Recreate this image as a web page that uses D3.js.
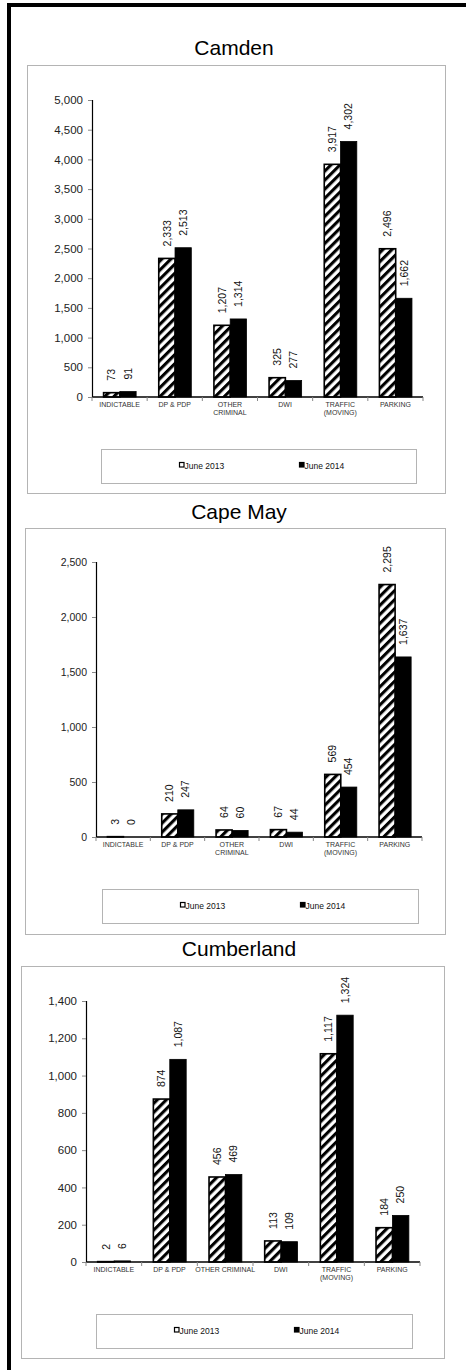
<!DOCTYPE html>
<html>
<head>
    <meta charset="utf-8">
    <title>Municipal Court Filings - June 2013 vs June 2014</title>
    <script src="https://d3js.org/d3.v7.min.js"></script>
    <style>
        body {
            margin: 0;
            background: #fff;
            font-family: "Liberation Sans", Arial, sans-serif;
        }
        svg text {
            font-family: "Liberation Sans", Arial, sans-serif;
        }
        .frame {
            fill: none;
            stroke: #b4b4b4;
            stroke-width: 1;
        }
        .title {
            font-size: 21px;
            fill: #000;
        }
        .tick-label {
            fill: #222;
        }
        .cat-label {
            font-size: 7px;
            fill: #333;
        }
        .value-label {
            font-size: 10.5px;
            fill: #111;
        }
        .legend-text {
            font-size: 8.5px;
            fill: #111;
        }
    </style>
</head>
<body>
    <div id="chart"></div>

    <script>
        // Categories along the x axis (second line used when the label wraps)
        const categories = ["INDICTABLE", "DP & PDP", "OTHER CRIMINAL", "DWI", "TRAFFIC (MOVING)", "PARKING"];
        const seriesNames = ["June 2013", "June 2014"];

        // Camden
        const camden2013 = [73, 2333, 1207, 325, 3917, 2496];
        const camden2014 = [91, 2513, 1314, 277, 4302, 1662];
        const camdenTicks = [0, 500, 1000, 1500, 2000, 2500, 3000, 3500, 4000, 4500, 5000];

        // Cape May
        const capeMay2013 = [3, 210, 64, 67, 569, 2295];
        const capeMay2014 = [0, 247, 60, 44, 454, 1637];
        const capeMayTicks = [0, 500, 1000, 1500, 2000, 2500];

        // Cumberland
        const cumberland2013 = [2, 874, 456, 113, 1117, 184];
        const cumberland2014 = [6, 1087, 469, 109, 1324, 250];
        const cumberlandTicks = [0, 200, 400, 600, 800, 1000, 1200, 1400];

        // page layout for the three stacked panels
        const panels = [
            {
                title: "Camden", v13: camden2013, v14: camden2014, ticks: camdenTicks,
                titleX: 234, titleY: 55,
                box: {x: 27, y: 65, w: 418, h: 428},
                axis: {x0: 92, x1: 423, y0: 397, yTop: 100},
                legend: {x: 101, y: 449, w: 315, h: 34},
                tickSize: 11.5, wrapOther: true
            },
            {
                title: "Cape May", v13: capeMay2013, v14: capeMay2014, ticks: capeMayTicks,
                titleX: 239, titleY: 519,
                box: {x: 25, y: 528, w: 420, h: 406},
                axis: {x0: 96, x1: 422, y0: 837, yTop: 562},
                legend: {x: 102, y: 889, w: 316, h: 34},
                tickSize: 10.5, wrapOther: true
            },
            {
                title: "Cumberland", v13: cumberland2013, v14: cumberland2014, ticks: cumberlandTicks,
                titleX: 239, titleY: 956,
                box: {x: 21, y: 966, w: 423, h: 392},
                axis: {x0: 86, x1: 420, y0: 1262, yTop: 1001},
                legend: {x: 96, y: 1314, w: 316, h: 34},
                tickSize: 11.5, wrapOther: false
            }
        ];

        const W = 466, H = 1370;
        const fmt = d3.format(",");

        const svg = d3.select("#chart")
            .append("svg")
            .attr("width", W)
            .attr("height", H);

        // diagonal hatch for the 2013 bars
        const defs = svg.append("defs");
        const hatch = defs.append("pattern")
            .attr("id", "hatch")
            .attr("patternUnits", "userSpaceOnUse")
            .attr("width", 6.4)
            .attr("height", 6.4)
            .attr("patternTransform", "rotate(45)");
        hatch.append("rect").attr("width", 6.4).attr("height", 6.4).attr("fill", "#fff");
        hatch.append("rect").attr("width", 3.1).attr("height", 6.4).attr("fill", "#000");

        // thick page border on the left and top
        svg.append("rect").attr("x", 7).attr("y", 3).attr("width", W - 7).attr("height", 4).attr("fill", "#000");
        svg.append("rect").attr("x", 7).attr("y", 3).attr("width", 4).attr("height", H - 3).attr("fill", "#000");

        function wrapLabel(name, wrapOther) {
            if (name === "TRAFFIC (MOVING)") return ["TRAFFIC", "(MOVING)"];
            if (name === "OTHER CRIMINAL" && wrapOther) return ["OTHER", "CRIMINAL"];
            return [name];
        }

        panels.forEach(function(p) {
            const g = svg.append("g");

            g.append("text")
                .attr("class", "title")
                .attr("x", p.titleX)
                .attr("y", p.titleY)
                .attr("text-anchor", "middle")
                .text(p.title);

            g.append("rect")
                .attr("class", "frame")
                .attr("x", p.box.x + 0.5)
                .attr("y", p.box.y + 0.5)
                .attr("width", p.box.w)
                .attr("height", p.box.h);

            const x0 = d3.scaleBand()
                .domain(categories)
                .range([p.axis.x0, p.axis.x1]);

            const x1 = d3.scaleBand()
                .domain(seriesNames)
                .range([x0.bandwidth() * 0.21, x0.bandwidth() * 0.8]);

            const y = d3.scaleLinear()
                .domain([0, d3.max(p.ticks)])
                .range([p.axis.y0, p.axis.yTop]);

            // y axis
            const yAxis = g.append("g")
                .attr("transform", `translate(${p.axis.x0},0)`)
                .call(d3.axisLeft(y).tickValues(p.ticks).tickFormat(fmt).tickSize(4).tickPadding(5));
            yAxis.select(".domain").attr("stroke", "#000").attr("stroke-width", 1.2)
                .attr("d", `M0.5,${p.axis.yTop}V${p.axis.y0}`);
            yAxis.selectAll(".tick line").attr("stroke", "#888");
            yAxis.selectAll(".tick text")
                .attr("class", "tick-label")
                .style("font-size", p.tickSize + "px")
                .attr("fill", "#222");

            const rows = categories.map((c, i) => ({cat: c, v: [p.v13[i], p.v14[i]]}));

            const groups = g.selectAll(".cat")
                .data(rows)
                .enter()
                .append("g")
                .attr("transform", d => `translate(${x0(d.cat)},0)`);

            // bars
            groups.selectAll("rect")
                .data(d => d.v.map((v, j) => ({s: seriesNames[j], v: v})))
                .enter()
                .append("rect")
                .attr("x", d => x1(d.s))
                .attr("y", d => y(d.v))
                .attr("width", x1.bandwidth())
                .attr("height", d => p.axis.y0 - y(d.v))
                .attr("fill", d => d.s === seriesNames[0] ? "url(#hatch)" : "#000")
                .attr("stroke", "#000")
                .attr("stroke-width", d => d.s === seriesNames[0] ? 1.6 : 0.8);

            // value labels, rotated
            groups.selectAll(".value-label")
                .data(d => d.v.map((v, j) => ({s: seriesNames[j], v: v})))
                .enter()
                .append("text")
                .attr("class", "value-label")
                .attr("transform", d => `translate(${x1(d.s) + x1.bandwidth() / 2},${y(d.v) - 12}) rotate(-90)`)
                .attr("dy", "0.35em")
                .text(d => fmt(d.v));

            // x axis line and category separators
            g.append("line")
                .attr("x1", p.axis.x0).attr("x2", p.axis.x1)
                .attr("y1", p.axis.y0).attr("y2", p.axis.y0)
                .attr("stroke", "#000").attr("stroke-width", 1.4);

            const bounds = categories.map(c => x0(c)).concat([p.axis.x1]);
            g.selectAll(".sep")
                .data(bounds)
                .enter()
                .append("line")
                .attr("x1", d => d).attr("x2", d => d)
                .attr("y1", p.axis.y0).attr("y2", p.axis.y0 + 4)
                .attr("stroke", "#888");

            // category labels
            const catText = g.selectAll(".cat-label")
                .data(categories)
                .enter()
                .append("text")
                .attr("class", "cat-label")
                .attr("text-anchor", "middle")
                .attr("x", d => x0(d) + x0.bandwidth() / 2)
                .attr("y", p.axis.y0 + 10);
            catText.selectAll("tspan")
                .data(d => wrapLabel(d, p.wrapOther).map(t => ({t: t, x: x0(d) + x0.bandwidth() / 2})))
                .enter()
                .append("tspan")
                .attr("x", d => d.x)
                .attr("dy", (d, i) => i === 0 ? 0 : 7.8)
                .text(d => d.t);

            // legend
            g.append("rect")
                .attr("class", "frame")
                .attr("x", p.legend.x + 0.5)
                .attr("y", p.legend.y + 0.5)
                .attr("width", p.legend.w)
                .attr("height", p.legend.h);

            const legendOffsets = [78, 198];
            seriesNames.forEach(function(s, j) {
                const lx = p.legend.x + legendOffsets[j];
                const ly = p.legend.y + 19.5;
                g.append("rect")
                    .attr("x", lx + 0.5)
                    .attr("y", ly - 6)
                    .attr("width", 4.5)
                    .attr("height", 4.5)
                    .attr("fill", j === 0 ? "#fff" : "#000")
                    .attr("stroke", "#000")
                    .attr("stroke-width", 1.2);
                g.append("text")
                    .attr("class", "legend-text")
                    .attr("x", lx + 5.5)
                    .attr("y", ly)
                    .text(s);
            });
        });
    </script>
</body>
</html>
